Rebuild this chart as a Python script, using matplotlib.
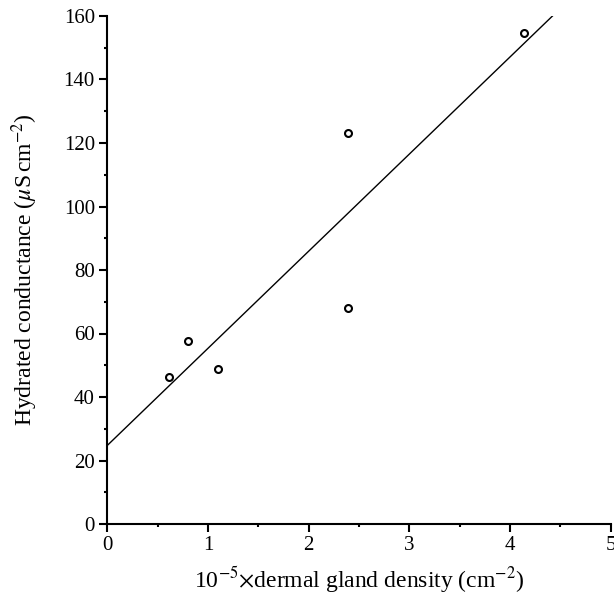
import numpy as np
import matplotlib
matplotlib.use("Agg")
import matplotlib.pyplot as plt
from matplotlib.ticker import MultipleLocator

# Data
gland_density = [0.61, 0.80, 1.10, 2.39, 2.39, 4.14]
conductance = [46.2, 57.6, 48.7, 123.0, 67.9, 154.7]
x_ticks = [0, 1, 2, 3, 4, 5]
y_ticks = [0, 20, 40, 60, 80, 100, 120, 140, 160]

plt.rcParams['font.family'] = ['Liberation Serif', 'DejaVu Serif']
plt.rcParams['mathtext.fontset'] = 'stix'

fig = plt.figure(figsize=(6.14, 6.04), dpi=100)
ax = fig.add_axes([107.3/614, (604-524)/604, (610.7-107.3)/614, (524-16)/604])

slope, intercept = np.polyfit(gland_density, conductance, 1)
xl = np.array([0, 5])
ax.plot(xl, slope*xl + intercept, color='black', lw=1.0)
ax.plot(gland_density, conductance, 'o', ms=5, mfc='white', mec='black', mew=1.5, clip_on=False)

ax.set_xlim(0, 5)
ax.set_ylim(0, 160)
ax.set_xticks(x_ticks)
ax.set_yticks(y_ticks)
ax.xaxis.set_minor_locator(MultipleLocator(0.5))
ax.yaxis.set_minor_locator(MultipleLocator(10))

for s in ['top', 'right']:
    ax.spines[s].set_visible(False)
for s in ['left', 'bottom']:
    ax.spines[s].set_linewidth(1.5)

ax.tick_params(which='major', direction='out', length=6, width=1.5, labelsize=15, pad=3)
ax.tick_params(which='minor', direction='out', length=2.5, width=1.5)

ax.set_xlabel(r'10$^{-5}$$\times$dermal gland density (cm$^{-2}$)', fontsize=17, labelpad=6)
ax.set_ylabel(r'Hydrated conductance ($\mu$S$\,$cm$^{-2}$)', fontsize=17, labelpad=17)

fig.savefig('out.png', dpi=100)
